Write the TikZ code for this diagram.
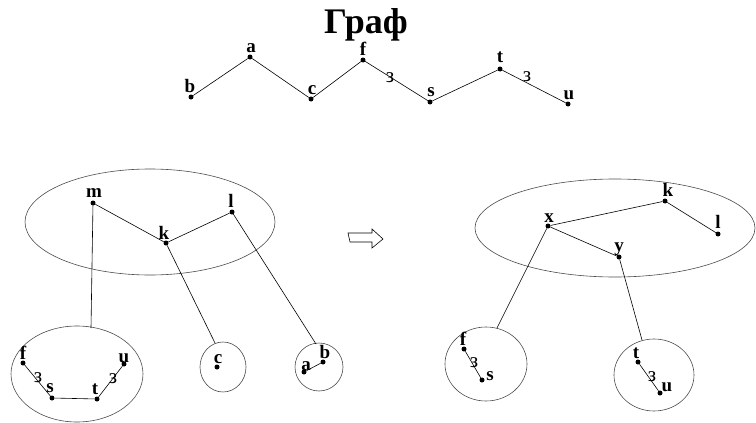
\documentclass[tikz,border=0pt]{standalone}
\usepackage{fontspec}
\setmainfont{Liberation Serif}
\usetikzlibrary{shapes.geometric}
\begin{document}
\begin{tikzpicture}[x=1pt,y=-1pt,
  dot/.style={circle,fill=black,inner sep=0pt,minimum size=5pt},
  lbl/.style={font=\fontsize{19}{19}\selectfont\bfseries,inner sep=0pt},
  wt/.style={font=\fontsize{21}{21}\selectfont,inner sep=0pt},
  edge/.style={draw=black,line width=0.6pt},
  ell/.style={draw=black!70,line width=0.6pt,ellipse,inner sep=0pt}]
\useasboundingbox (0,0) rectangle (756,423);
\node[font=\fontsize{36}{36}\selectfont\bfseries,anchor=base,inner sep=0pt] (title) at (366,33) {Граф};
% top chain
\node[dot] (b) at (191,97) {}; \node[lbl] (bl) at (190,86) {b};
\node[dot] (a) at (250,57) {}; \node[lbl] (al) at (251,48) {a};
\node[dot] (f) at (363,60) {}; \node[lbl] (fl) at (363,49) {f};
\node[dot] (c) at (311,99) {}; \node[lbl] (cl) at (312,90) {c};
\node[dot] (s) at (430,102) {}; \node[lbl] (sl) at (431,92) {s};
\node[dot] (t) at (500,69) {}; \node[lbl] (tl) at (500,57) {t};
\node[dot] (u) at (568,104) {}; \node[lbl] (ul) at (569,95) {u};
\draw[edge] (b)--(a)--(c)--(f)--(s)--(t)--(u);
\node[wt] (w1) at (390,78) {з};
\node[wt] (w2) at (527,77) {з};
% left big ellipse
\node[ell,minimum width=250pt,minimum height=106pt] (E1) at (150,222) {};
\node[dot] (m) at (93,203) {}; \node[lbl] (ml) at (94,193) {m};
\node[dot] (k) at (166,243) {}; \node[lbl] (kl) at (164,233) {k};
\node[dot] (l) at (232,212) {}; \node[lbl] (ll) at (231,201) {l};
\draw[edge] (m)--(k)--(l);
% bottom-left ellipse
\node[ell,minimum width=132pt,minimum height=96pt] (E2) at (77,374) {};
\node[dot] (f2) at (23,363) {}; \node[lbl] (f2l) at (23,353) {f};
\node[dot] (s2) at (52,398) {}; \node[lbl] (s2l) at (50,388) {s};
\node[dot] (t2) at (97,399) {}; \node[lbl] (t2l) at (95,389) {t};
\node[dot] (u2) at (124,364) {}; \node[lbl] (u2l) at (124,358) {u};
\draw[edge] (f2)--(s2)--(t2)--(u2);
\node[wt] (w3) at (38,378) {з};
\node[wt] (w4) at (113,379) {з};
% circle c
\node[ell,minimum width=46pt,minimum height=50pt] (E3) at (223,367) {};
\node[dot] (c2) at (217,367) {}; \node[lbl] (c2l) at (218,359) {c};
% circle ab
\node[ell,minimum width=48pt,minimum height=48pt] (E4) at (319,367) {};
\node[dot] (a2) at (304,372) {}; \node[lbl] (a2l) at (306,366) {a};
\node[dot] (b2) at (323,362) {}; \node[lbl] (b2l) at (325,352) {b};
\draw[edge] (a2)--(b2);
% connectors to subgraphs
\coordinate (m1) at (91,328);
\coordinate (k1) at (215,343);
\coordinate (l1) at (316,344);
\draw[edge] (m)--(m1);
\draw[edge] (k)--(k1);
\draw[edge] (l)--(l1);
% hollow arrow
\draw[line width=0.6pt,fill=white] (348,233)--(372,233)--(372,229)--(383,239)--(372,248)--(372,242)--(350,242)--cycle;
% right big ellipse
\node[ell,minimum width=280pt,minimum height=98pt] (E5) at (615,228) {};
\node[dot] (k3) at (665,201) {}; \node[lbl] (k3l) at (668,190) {k};
\node[dot] (x3) at (548,226) {}; \node[lbl] (x3l) at (549,218) {x};
\node[dot] (y3) at (619,257) {}; \node[lbl] (y3l) at (619,249) {y};
\node[dot] (l3) at (718,234) {}; \node[lbl] (l3l) at (718,222) {l};
\draw[edge] (x3)--(k3)--(l3);
\draw[edge] (x3)--(y3);
% circle fs
\node[ell,minimum width=82pt,minimum height=74pt] (E6) at (486,364) {};
\node[dot] (f4) at (464,349) {}; \node[lbl] (f4l) at (463,339) {f};
\node[dot] (s4) at (482,380) {}; \node[lbl] (s4l) at (490,376) {s};
\draw[edge] (f4)--(s4);
\node[wt] (w5) at (474,363) {з};
% circle tu
\node[ell,minimum width=80pt,minimum height=72pt] (E7) at (654,375) {};
\node[dot] (t4) at (638,362) {}; \node[lbl] (t4l) at (636,353) {t};
\node[dot] (u4) at (660,393) {}; \node[lbl] (u4l) at (667,387) {u};
\draw[edge] (t4)--(u4);
\node[wt] (w6) at (652,377) {з};
\coordinate (x4) at (497,328);
\coordinate (y4) at (642,340);
\draw[edge] (x3)--(x4);
\draw[edge] (y3)--(y4);
\end{tikzpicture}
\end{document}
